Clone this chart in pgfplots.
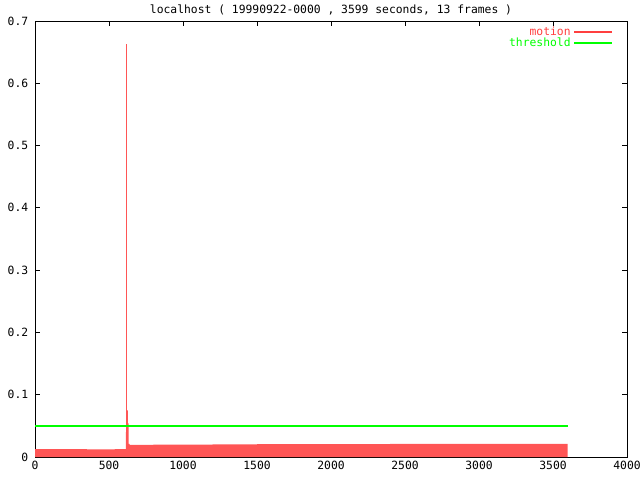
\documentclass[border=0pt]{standalone}
\usepackage{fontspec}
\setmainfont{DejaVu Sans Mono}
\setmonofont{DejaVu Sans Mono}
\usepackage{pgfplots}
\pgfplotsset{compat=1.18}
\definecolor{motfill}{HTML}{FF5555}
\definecolor{motline}{HTML}{FF3F3F}
\definecolor{thrgreen}{HTML}{00FF00}
\begin{document}
\fontsize{8.2}{9}\selectfont
\begin{tikzpicture}
\useasboundingbox (-0.35in,-0.23in) rectangle ++(6.4in,4.8in);
\begin{axis}[
  at={(0,0)}, anchor=south west,
  scale only axis,
  width=5.92in, height=4.36in,
  xmin=0, xmax=4000, ymin=0, ymax=0.7,
  xtick={0,500,...,4000},
  ytick={0,0.1,...,0.7},
  tick align=inside,
  major tick length=0.05in,
  tick style={black, line width=0.7pt},
  axis line style={black, line width=0.7pt},
  /pgf/number format/assume math mode=true,
  /pgf/number format/fixed,
  /pgf/number format/1000 sep={},
  tick label style={font=\fontsize{8.2}{9}\selectfont},
  yticklabel style={xshift=-2pt},
  title={localhost ( 19990922-0000 , 3599 seconds, 13 frames )},
  title style={font=\fontsize{8.2}{9}\selectfont, yshift=-5pt},
  legend style={draw=none, fill=none, at={(0.979,0.997)}, anchor=north east,
    font=\fontsize{8.2}{9}\selectfont, row sep=-3.6pt, inner sep=1pt},
  legend cell align=right,
  legend plot pos=right,
  legend image code/.code={\draw[#1] (0cm,0cm) -- (0.38in,0cm);},
]
\addlegendimage{color=motline, line width=1.0pt}
\addlegendentry{\textcolor{motline}{motion}}
\addlegendimage{color=thrgreen, line width=1.1pt}
\addlegendentry{\textcolor{thrgreen}{threshold}}
\addplot[fill=motfill, draw=none, const plot, forget plot] coordinates {
(0,0.0125) (80,0.0128) (150,0.0125) (200,0.0128) (260,0.0125) (350,0.0122) (450,0.0124) (540,0.0125) (600,0.0127) (612,0.0125)
(614,0.040) (616,0.075) (624,0.075) (628,0.054) (632,0.021)
(640,0.0195) (800,0.0198) (1000,0.0200) (1200,0.0203) (1500,0.0205) (1800,0.0207) (2100,0.0208) (2400,0.0209) (2700,0.0210) (3000,0.0211) (3300,0.0212) (3599,0.0212) (3599,0)
} \closedcycle;
\addplot[ycomb, color=motfill, line width=0.8pt, mark=none, forget plot] coordinates {(621,0.663)};
\addplot[color=thrgreen, line width=1.0pt, forget plot] coordinates {(0,0.05) (3599,0.05)};
\end{axis}
\end{tikzpicture}
\end{document}
